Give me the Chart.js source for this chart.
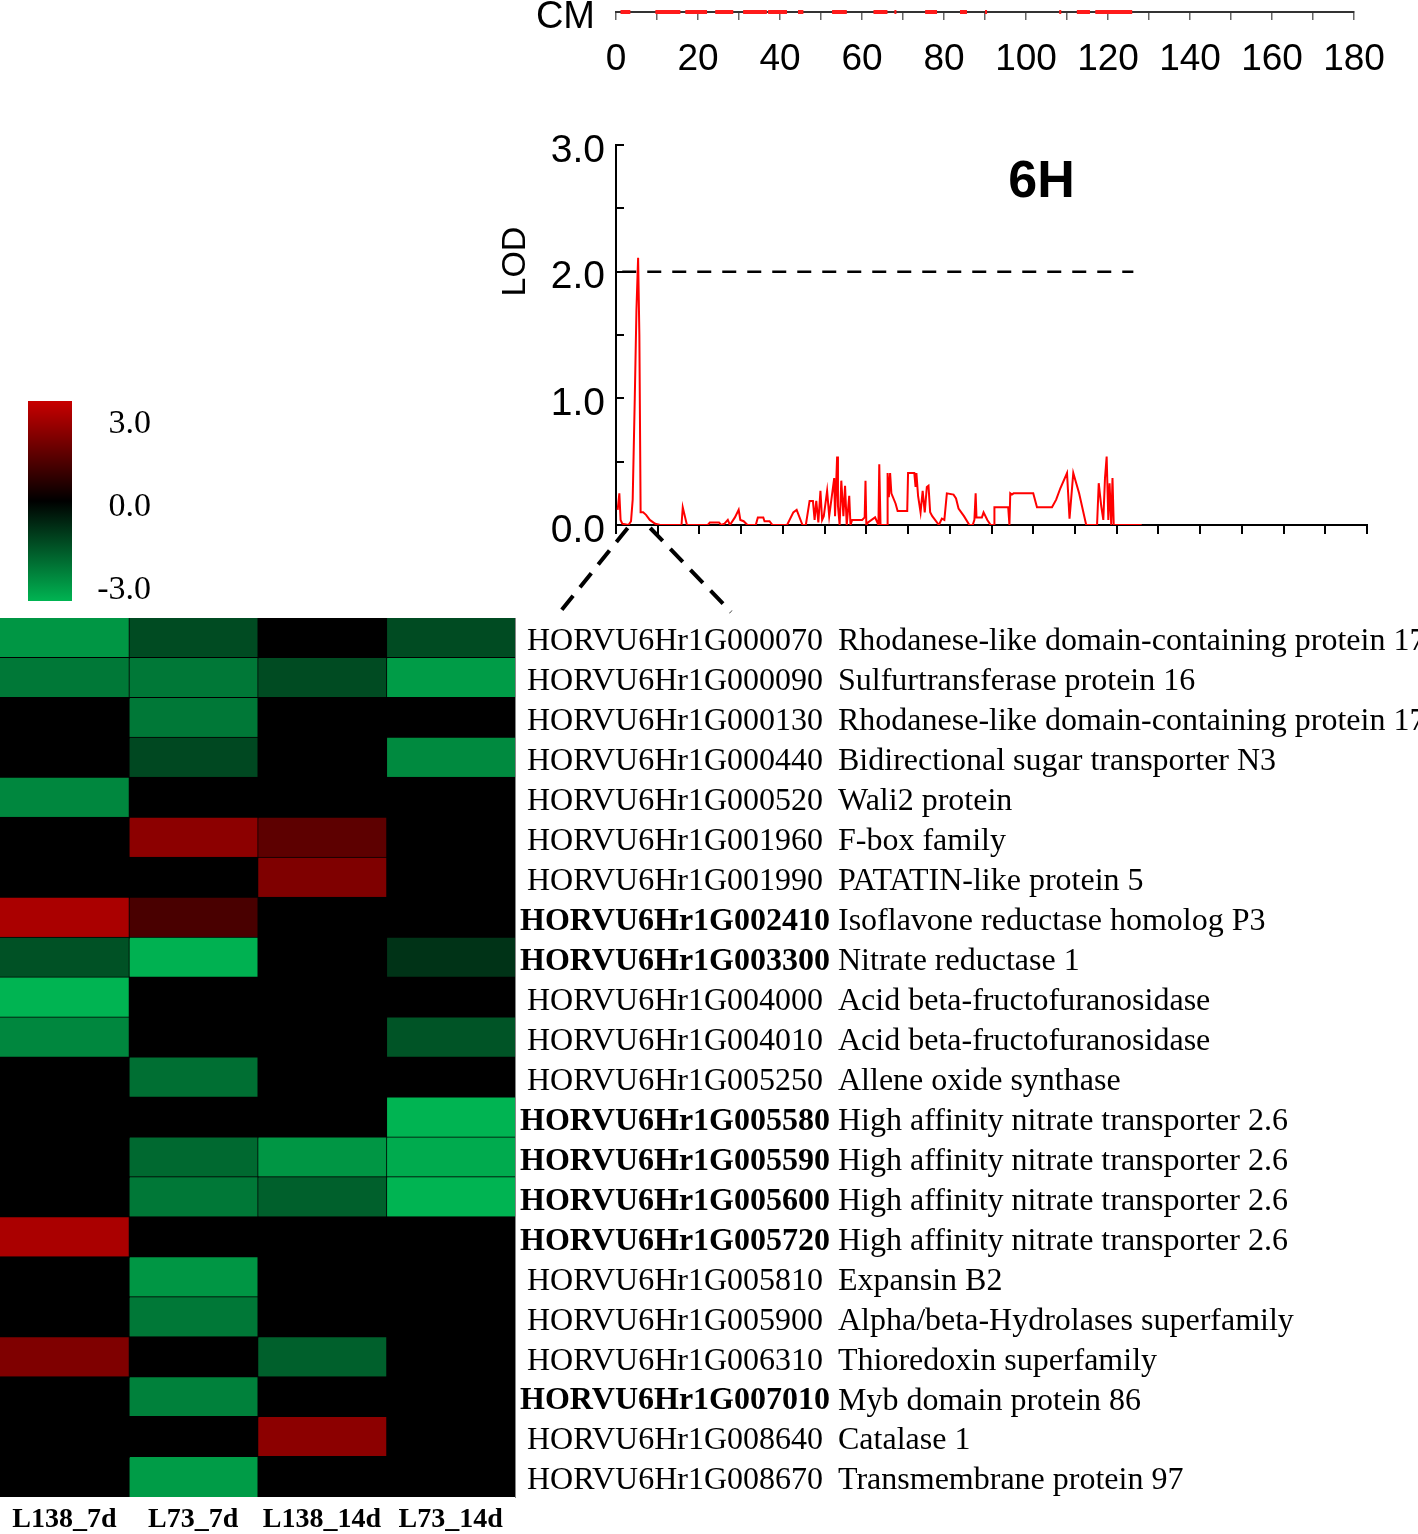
<!DOCTYPE html>
<html>
<head>
<meta charset="utf-8">
<script src="https://cdn.jsdelivr.net/npm/chart.js"></script>
<style>
  html, body { margin: 0; padding: 0; background: #fff; }
  body { width: 1418px; height: 1534px; position: relative; overflow: hidden; }
  .panel { position: absolute; }
</style>
</head>
<body>
<div class="panel" style="left:0;top:610px;width:1418px;height:924px"><canvas id="heatmap"></canvas></div>
<div class="panel" style="left:0;top:380px;width:200px;height:240px"><canvas id="colorKey"></canvas></div>
<div class="panel" style="left:490px;top:100px;width:928px;height:520px"><canvas id="lodChart"></canvas></div>
<div class="panel" style="left:0;top:0;width:1418px;height:95px"><canvas id="cmAxis"></canvas></div>
<script>
// marker coverage on the 6H map (cM)
const markerStart = [1.1, 9.6, 16.9, 24.2, 31.0, 37.1, 44.4, 52.7, 62.8, 67.9, 75.4, 83.9, 90.0, 108.1, 112.4, 116.9];
const markerEnd = [3.5, 15.7, 22.2, 28.6, 36.8, 41.7, 45.7, 56.3, 66.2, 68.4, 78.3, 85.6, 90.5, 108.6, 115.6, 125.9];

// LOD profile along chromosome 6H
const lodCm = [0.4, 0.8, 1.1, 1.5, 3.0, 3.6, 4.0, 4.5, 4.9, 5.3, 5.6, 5.9, 6.5, 7.2, 8.1, 9.4, 10.6,
  15.7, 16.0, 17.0, 22.0, 22.5, 24.7, 25.2, 26.0, 26.8, 27.3, 28.5, 29.4, 29.8, 30.6, 31.5,
  33.5, 34.0, 35.3, 35.6, 36.8, 37.5, 41.0, 42.5, 43.3, 44.7, 45.5, 46.4, 47.2, 47.6, 48.0,
  48.5, 49.0, 49.4, 49.8, 50.6, 51.1, 52.3, 52.5, 53.0, 53.2, 53.6, 54.0, 54.5, 54.9, 55.3,
  55.9, 56.2, 56.6, 59.0, 59.6, 59.8, 60.0, 60.4, 62.1, 62.9, 63.1, 63.4, 65.0, 65.1, 65.4,
  65.7, 66.0, 67.0, 67.5, 69.8, 70.0, 71.5, 71.8, 72.0, 72.4, 73.0, 73.5, 74.0, 74.5, 74.9,
  75.3, 75.8, 77.4, 78.1, 78.7, 79.3, 80.9, 81.5, 82.1, 83.4, 84.7, 85.5, 85.9, 86.2, 86.4,
  87.7, 88.1, 89.0, 89.8, 90.6, 90.7, 94.0, 94.3, 94.5, 94.9, 95.3, 100.0, 100.9, 104.5,
  105.5, 106.5, 108.1, 108.7, 109.6, 111.0, 112.7, 115.3, 115.7, 116.3, 116.8, 117.2, 117.6,
  118.0, 118.3, 118.7, 119.0, 119.3, 126.0];
const lodValues = [0.12, 0.25, 0.04, 0.01, 0.0, 0.03, 0.2, 1.0, 1.7, 2.11, 1.5, 0.1, 0.1, 0.08, 0.04, 0.01, 0.0,
  0.0, 0.14, 0.0, 0.0, 0.02, 0.02, 0.0, 0.01, 0.04, 0.0, 0.06, 0.12, 0.04, 0.03, 0.0,
  0.0, 0.06, 0.06, 0.03, 0.03, 0.0, 0.0, 0.1, 0.12, 0.0, 0.0, 0.19, 0.19, 0.04, 0.19,
  0.02, 0.27, 0.04, 0.07, 0.27, 0.07, 0.37, 0.07, 0.54, 0.15, 0.0, 0.35, 0.07, 0.31, 0.0,
  0.23, 0.0, 0.04, 0.04, 0.06, 0.35, 0.0, 0.02, 0.06, 0.0, 0.48, 0.0, 0.0, 0.41, 0.22,
  0.41, 0.25, 0.17, 0.11, 0.11, 0.41, 0.41, 0.3, 0.41, 0.23, 0.1, 0.27, 0.1, 0.3, 0.31,
  0.1, 0.07, 0.0, 0.05, 0.04, 0.25, 0.24, 0.21, 0.13, 0.07, 0.0, 0.0, 0.04, 0.25, 0.06,
  0.06, 0.1, 0.04, 0.0, 0.0, 0.14, 0.14, 0.0, 0.25, 0.24, 0.25, 0.25, 0.14, 0.14,
  0.2, 0.29, 0.41, 0.05, 0.41, 0.25, 0.0, 0.0, 0.33, 0.15, 0.04, 0.37, 0.54,
  0.04, 0.33, 0.0, 0.37, 0.0, 0.0];
const lodThreshold = 2.0;
const thresholdSpan = [1.5, 124];
const qtlInterval = [2.8, 8.2];
const lodTicks = [0, 1, 2, 3];
const cmMax = 180;

// heatmap: log2 fold change per gene
const conditions = ["L138_7d", "L73_7d", "L138_14d", "L73_14d"];
const geneIds = ["HORVU6Hr1G000070", "HORVU6Hr1G000090", "HORVU6Hr1G000130", "HORVU6Hr1G000440",
  "HORVU6Hr1G000520", "HORVU6Hr1G001960", "HORVU6Hr1G001990", "HORVU6Hr1G002410",
  "HORVU6Hr1G003300", "HORVU6Hr1G004000", "HORVU6Hr1G004010", "HORVU6Hr1G005250",
  "HORVU6Hr1G005580", "HORVU6Hr1G005590", "HORVU6Hr1G005600", "HORVU6Hr1G005720",
  "HORVU6Hr1G005810", "HORVU6Hr1G005900", "HORVU6Hr1G006310", "HORVU6Hr1G007010",
  "HORVU6Hr1G008640", "HORVU6Hr1G008670"];
const geneDescs = ["Rhodanese-like domain-containing protein 17", "Sulfurtransferase protein 16",
  "Rhodanese-like domain-containing protein 17", "Bidirectional sugar transporter N3",
  "Wali2 protein", "F-box family", "PATATIN-like protein 5", "Isoflavone reductase homolog P3",
  "Nitrate reductase 1", "Acid beta-fructofuranosidase", "Acid beta-fructofuranosidase",
  "Allene oxide synthase", "High affinity nitrate transporter 2.6", "High affinity nitrate transporter 2.6",
  "High affinity nitrate transporter 2.6", "High affinity nitrate transporter 2.6", "Expansin B2",
  "Alpha/beta-Hydrolases superfamily", "Thioredoxin superfamily", "Myb domain protein 86",
  "Catalase 1", "Transmembrane protein 97"];
const boldGenes = ["HORVU6Hr1G002410", "HORVU6Hr1G003300", "HORVU6Hr1G005580", "HORVU6Hr1G005590",
  "HORVU6Hr1G005600", "HORVU6Hr1G005720", "HORVU6Hr1G007010"];
const l138_7d = [-2.5, -2.0, 0, 0, -2.25, 0, 0, 2.55, -1.35, -3.0, -2.25, 0, 0, 0, 0, 2.55, 0, 0, 1.9, 0, 0, 0];
const l73_7d = [-1.25, -2.0, -2.0, -1.2, 0, 2.1, 0, 1.1, -2.95, 0, 0, -1.85, 0, -1.75, -2.0, 0, -2.5, -2.0, 0, -2.15, 0, -2.6];
const l138_14d = [0, -1.25, 0, 0, 0, 1.4, 1.9, 0, 0, 0, 0, 0, 0, -2.5, -1.6, 0, 0, 0, -1.6, 0, 2.1, 0];
const l73_14d = [-1.25, -2.6, 0, -2.3, 0, 0, 0, 0, -0.85, 0, -1.4, 0, -3.0, -2.85, -3.0, 0, 0, 0, 0, 0, 0, 0];
const expression = [l138_7d, l73_7d, l138_14d, l73_14d];
const keyTicks = [-3, 0, 3];
const keyLimit = 3.6;
const colourLimit = 3;

const SANS = "'Liberation Sans', Arial, sans-serif";
const SERIF = "'Liberation Serif', 'Times New Roman', serif";

function heatColour(v) {
  const t = Math.max(-1, Math.min(1, v / colourLimit));
  if (t >= 0) return `rgb(${Math.round(200 * t)},0,0)`;
  return `rgb(0,${Math.round(180 * -t)},${Math.round(82 * -t)})`;
}

// drop the label overhang padding so chart areas land where the layout asks
function noOverhang(s) {
  s.paddingTop = 0;
  s.paddingBottom = 0;
}

Chart.defaults.animation = false;
Chart.defaults.responsive = true;
Chart.defaults.maintainAspectRatio = false;
Chart.defaults.devicePixelRatio = 1;
Chart.defaults.plugins.legend.display = false;
Chart.defaults.plugins.tooltip.enabled = false;
Chart.defaults.color = "#000";

// ---- top genetic map axis (cM) ----
const markerData = [];
markerStart.forEach((s, i) => {
  markerData.push({ x: s, y: 0 }, { x: markerEnd[i], y: 0 }, { x: markerEnd[i], y: null });
});

new Chart(document.getElementById("cmAxis"), {
  type: "line",
  data: {
    datasets: [{
      data: markerData,
      borderColor: "#ff1a1a",
      borderWidth: 4,
      pointRadius: 0,
      spanGaps: false,
      clip: false,
    }],
  },
  options: {
    layout: { padding: { left: 0, right: 64, top: 0, bottom: 0 } },
    scales: {
      x: {
        type: "linear", min: 0, max: cmMax,
        afterBuildTicks: (s) => { s.ticks = Array.from({ length: cmMax / 10 + 1 }, (_, i) => ({ value: i * 10 })); },
        ticks: {
          autoSkip: false, maxRotation: 0, padding: 18,
          font: { family: SANS, size: 37 },
          callback: (v) => (v % 20 === 0 ? String(v) : ""),
        },
        grid: { drawOnChartArea: false, tickLength: 8, color: "#666", lineWidth: 1.5 },
        border: { color: "#333", width: 2 },
        afterFit: (s) => { s.height = 83; },
      },
      y: {
        min: 0, max: 1,
        afterBuildTicks: (s) => { s.ticks = [{ value: 0 }]; },
        ticks: { callback: () => "CM", padding: 13, labelOffset: 6, font: { family: SANS, size: 38 } },
        grid: { display: false },
        border: { display: false },
        afterFit: (s) => { s.width = 616; noOverhang(s); },
      },
    },
  },
});

// ---- LOD profile ----
const lodLabels = {
  id: "lodLabels",
  afterDraw(chart) {
    const { ctx, scales: { x, y } } = chart;
    ctx.save();
    ctx.fillStyle = "#000";
    ctx.textAlign = "center";
    ctx.textBaseline = "middle";
    ctx.font = `bold 52px ${SANS}`;
    ctx.fillText("6H", x.getPixelForValue(102), y.getPixelForValue(2.7));
    ctx.translate(y.left + 26, y.getPixelForValue(2.08));
    ctx.rotate(-Math.PI / 2);
    ctx.font = `34px ${SANS}`;
    ctx.fillText("LOD", 0, 0);
    ctx.restore();

    // dashed connectors from the QTL interval down to the heatmap
    const base = y.getPixelForValue(0) + 3;
    const ends = [[66, 517], [241, 512]];
    ctx.save();
    ctx.strokeStyle = "#000";
    ctx.lineWidth = 4;
    ctx.setLineDash([18, 11]);
    qtlInterval.forEach((cm, i) => {
      ctx.beginPath();
      ctx.moveTo(x.getPixelForValue(cm), base);
      ctx.lineTo(ends[i][0], ends[i][1]);
      ctx.stroke();
    });
    ctx.restore();
  },
};

new Chart(document.getElementById("lodChart"), {
  type: "line",
  data: {
    datasets: [
      {
        data: lodCm.map((cm, i) => ({ x: cm, y: lodValues[i] })),
        borderColor: "#ff0000",
        borderWidth: 2,
        pointRadius: 0,
        tension: 0,
      },
      {
        data: thresholdSpan.map((cm) => ({ x: cm, y: lodThreshold })),
        borderColor: "#000",
        borderWidth: 2.5,
        borderDash: [14, 11],
        pointRadius: 0,
      },
    ],
  },
  options: {
    layout: { padding: { left: 0, right: 51, top: 45, bottom: 83 } },
    scales: {
      x: {
        type: "linear", min: 0, max: cmMax,
        ticks: { display: false, stepSize: 10 },
        grid: { drawOnChartArea: false, tickLength: 9, color: "#000", lineWidth: 2 },
        border: { color: "#000", width: 2 },
        afterFit: (s) => { s.height = 12; },
      },
      y: {
        min: 0, max: 3,
        ticks: {
          stepSize: 0.5, padding: 19, labelOffset: 6,
          font: { family: SANS, size: 39 },
          callback: (v) => (lodTicks.includes(v) ? v.toFixed(1) : ""),
        },
        grid: { drawOnChartArea: false, tickLength: -8, color: "#000", lineWidth: 2 },
        border: { color: "#000", width: 2 },
        afterFit: (s) => { s.width = 126; noOverhang(s); },
      },
    },
  },
  plugins: [lodLabels],
});

// ---- colour key ----
new Chart(document.getElementById("colorKey"), {
  type: "bar",
  data: {
    labels: ["key"],
    datasets: [{
      data: [[-keyLimit, keyLimit]],
      barPercentage: 1,
      categoryPercentage: 1,
      borderWidth: 0,
      backgroundColor: (c) => {
        const area = c.chart.chartArea;
        if (!area) return "#000";
        const g = c.chart.ctx.createLinearGradient(0, area.bottom, 0, area.top);
        g.addColorStop(0, heatColour(-colourLimit));
        g.addColorStop(0.5, "#000");
        g.addColorStop(1, heatColour(colourLimit));
        return g;
      },
    }],
  },
  options: {
    layout: { padding: { left: 28, right: 49, top: 21, bottom: 19 } },
    scales: {
      x: { display: false },
      y: {
        position: "right", min: -keyLimit, max: keyLimit,
        afterBuildTicks: (s) => { s.ticks = keyTicks.map((v) => ({ value: v })); },
        ticks: {
          crossAlign: "far", padding: 24, labelOffset: 6,
          font: { family: SERIF, size: 34 },
          callback: (v) => v.toFixed(1),
        },
        grid: { display: false, drawTicks: false },
        border: { display: false },
        afterFit: (s) => { s.width = 79; noOverhang(s); },
      },
    },
  },
});

// ---- expression heatmap ----
new Chart(document.getElementById("heatmap"), {
  type: "bar",
  data: {
    labels: geneIds,
    datasets: conditions.map((c, j) => ({
      label: c,
      data: geneIds.map(() => 1),
      backgroundColor: expression[j].map(heatColour),
      borderColor: "#000",
      borderWidth: 1,
      borderSkipped: false,
      inflateAmount: 1,
      barPercentage: 1,
      categoryPercentage: 1,
    })),
  },
  options: {
    indexAxis: "y",
    layout: { padding: { left: 0, right: 0, top: 8, bottom: 0 } },
    scales: {
      x: { type: "linear", stacked: true, min: 0, max: conditions.length, display: false },
      xCond: {
        type: "category", labels: conditions, position: "bottom", offset: true,
        ticks: { padding: -2, font: { family: SERIF, size: 28, weight: "bold" }, maxRotation: 0 },
        grid: { display: false },
        border: { display: false },
        afterFit: (s) => { s.height = 37; },
      },
      y: {
        type: "category", position: "right", stacked: true, offset: true,
        ticks: {
          autoSkip: false, crossAlign: "center", padding: 5, labelOffset: 4,
          font: (c) => ({
            family: SERIF, size: 32,
            weight: boldGenes.includes(geneIds[c.index]) ? "bold" : "normal",
          }),
        },
        grid: { display: false, drawTicks: false },
        border: { color: "#888", width: 1 },
        afterFit: (s) => { s.width = 321; noOverhang(s); },
      },
      yDesc: {
        type: "category", axis: "y", labels: geneDescs, position: "right", offset: true, weight: 1,
        ticks: { autoSkip: false, crossAlign: "near", padding: 2, labelOffset: 4, font: { family: SERIF, size: 32 } },
        grid: { display: false, drawTicks: false },
        border: { display: false },
        afterFit: (s) => { s.width = 582; noOverhang(s); },
      },
    },
  },
});
</script>
</body>
</html>
